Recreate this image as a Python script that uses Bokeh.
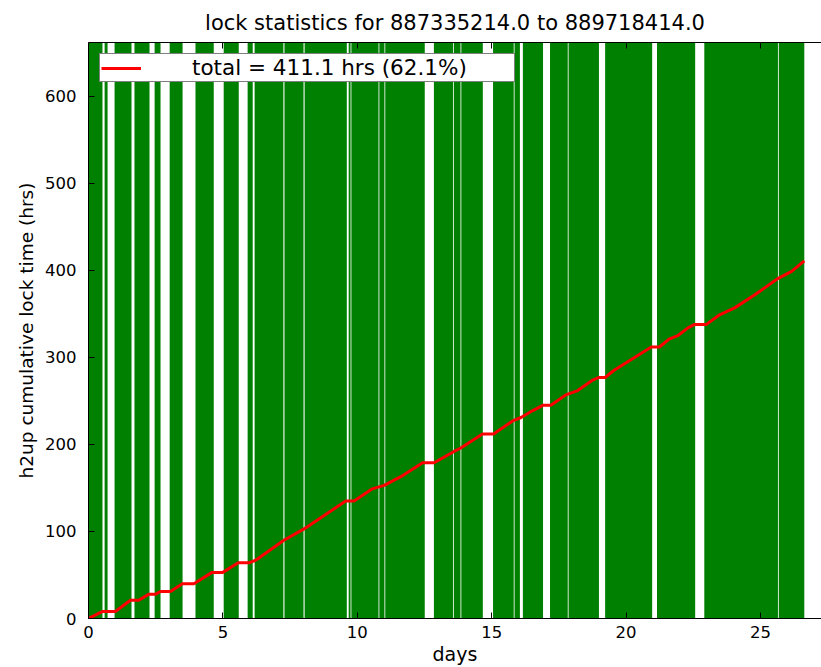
from bokeh.plotting import figure
from bokeh.models import (Range1d, LinearAxis, SingleIntervalTicker, Legend, LegendItem,
                          CustomJSTickFormatter)
from bokeh.embed import file_html
from bokeh.resources import INLINE

# lock segments (days since start)
lock_start = [0.00, 0.60, 0.97, 1.71, 2.46, 3.02, 3.98, 5.03, 5.92, 6.18, 7.29, 8.04,
              9.68, 9.78, 10.82, 11.04, 12.85, 13.59, 13.87, 15.05, 15.85, 16.16,
              17.17, 17.86, 19.22, 21.15, 22.91, 25.68]
lock_end = [0.52, 0.71, 1.60, 2.27, 2.68, 3.50, 4.66, 5.59, 6.11, 7.25, 8.00, 9.61,
            9.75, 10.79, 11.01, 12.51, 13.56, 13.84, 14.67, 15.82, 16.05, 16.91,
            17.83, 18.99, 20.97, 22.57, 25.65, 26.63]

# cumulative lock time curve
cum_days = [0, 0.51, 1.0, 1.56, 1.87, 2.25, 2.5, 2.68, 3.05, 3.49, 3.92, 4.6, 5.0,
            5.57, 5.97, 6.22, 7.27, 8.02, 9.57, 9.88, 10.56, 11.0, 11.62, 12.43,
            12.86, 13.6, 13.85, 14.66, 15.07, 15.78, 16.09, 16.53, 16.9, 17.2,
            17.76, 18.2, 18.76, 18.99, 19.22, 19.54, 20.94, 21.24, 21.6, 21.92,
            22.3, 22.55, 22.99, 23.48, 24.04, 24.79, 25.66, 26.16, 26.63]
cum_hrs = [0, 8, 8, 21, 21, 28, 28, 31, 31, 40, 40, 53, 53,
           64, 64, 67, 90, 103, 135, 135, 149, 153, 163, 179,
           179, 192, 196, 212, 212, 227, 231, 239, 245, 245,
           257, 262, 274, 277, 277, 285, 312, 312, 321, 325,
           334, 338, 338, 349, 357, 372, 391, 399, 411.1]

title_text = "lock statistics for 887335214.0 to 889718414.0"
legend_label = "total = 411.1 hrs (62.1%)"
total_hrs = 662.0

FONT = "DejaVu Sans"

p = figure(width=821, height=667, output_backend="svg", toolbar_location=None,
           x_range=Range1d(0, 27.27), y_range=Range1d(0, total_hrs),
           min_border_left=88, min_border_right=0, min_border_top=42,
           min_border_bottom=48, title=title_text)
p.outline_line_color = None
p.grid.visible = False
p.background_fill_color = "white"
p.border_fill_color = "white"

p.title.text_font = FONT
p.title.text_font_size = "21px"
p.title.text_font_style = "normal"
p.title.text_color = "black"
p.title.align = "center"
p.title.standoff = 8

p.quad(left=lock_start, right=lock_end, bottom=0, top=total_hrs,
       fill_color="#008000", line_color=None)
line = p.line(cum_days, cum_hrs, line_color="red", line_width=3)

xa = p.xaxis[0]
xa.ticker = SingleIntervalTicker(interval=5)
ya = p.yaxis[0]
ya.ticker = SingleIntervalTicker(interval=100)
for ax in (xa, ya):
    ax.major_tick_in = 6
    ax.major_tick_out = 0
    ax.minor_tick_line_color = None
    ax.axis_line_color = "black"
    ax.major_tick_line_color = "black"
    ax.major_label_text_font = FONT
    ax.major_label_text_font_size = "16.5px"
    ax.major_label_text_color = "black"
    ax.axis_label_text_font = FONT
    ax.axis_label_text_font_style = "normal"
    ax.axis_label_text_color = "black"
xa.axis_label = "days"
xa.axis_label_text_font_size = "19px"
xa.major_label_standoff = 3
xa.axis_label_standoff = 2
ya.axis_label = "h2up cumulative lock time (hrs)"
ya.axis_label_text_font_size = "18.5px"
ya.major_label_standoff = 8
ya.axis_label_standoff = 5

top_ax = LinearAxis(ticker=SingleIntervalTicker(interval=5),
                    formatter=CustomJSTickFormatter(code="return ''"),
                    major_tick_in=6, major_tick_out=0,
                    minor_tick_line_color=None,
                    major_label_standoff=0,
                    axis_line_color="black")
p.add_layout(top_ax, "above")

legend = Legend(items=[LegendItem(label=legend_label, renderers=[line])],
                location="top_left")
legend.margin = 11
legend.padding = 1
legend.spacing = 0
legend.glyph_width = 40
legend.glyph_height = 20
legend.label_height = 22
legend.label_standoff = 51
legend.label_width = 321
legend.label_text_font = FONT
legend.label_text_font_size = "21.5px"
legend.label_text_color = "black"
legend.border_line_color = "black"
legend.border_line_width = 1
legend.background_fill_color = "white"
legend.background_fill_alpha = 1.0
p.add_layout(legend)

open("out.html", "w").write(file_html(p, INLINE))
